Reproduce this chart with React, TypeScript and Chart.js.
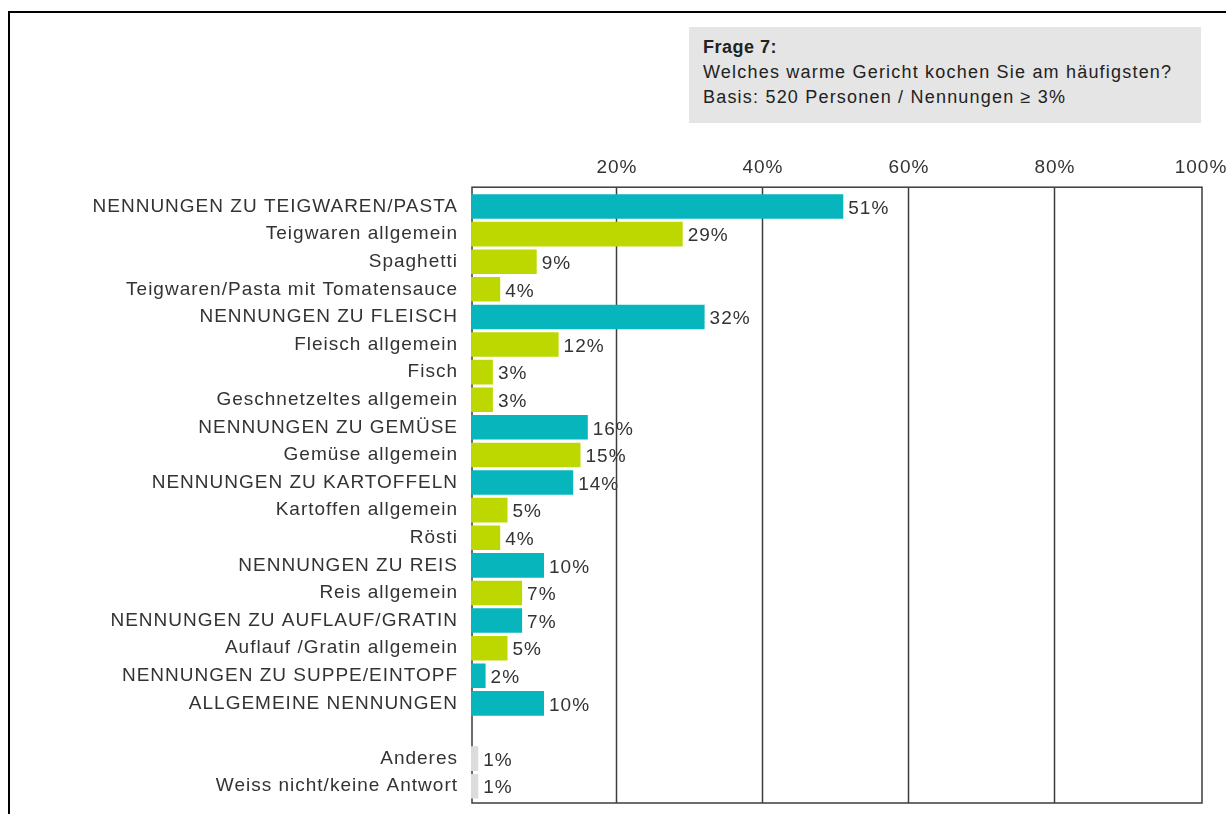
import React, { useEffect, useRef } from "react";
import { Chart, registerables } from "chart.js";

Chart.register(...registerables);

const categories = [
  "NENNUNGEN ZU TEIGWAREN/PASTA",
  "Teigwaren allgemein",
  "Spaghetti",
  "Teigwaren/Pasta mit Tomatensauce",
  "NENNUNGEN ZU FLEISCH",
  "Fleisch allgemein",
  "Fisch",
  "Geschnetzeltes allgemein",
  "NENNUNGEN ZU GEMÜSE",
  "Gemüse allgemein",
  "NENNUNGEN ZU KARTOFFELN",
  "Kartoffen allgemein",
  "Rösti",
  "NENNUNGEN ZU REIS",
  "Reis allgemein",
  "NENNUNGEN ZU AUFLAUF/GRATIN",
  "Auflauf /Gratin allgemein",
  "NENNUNGEN ZU SUPPE/EINTOPF",
  "ALLGEMEINE NENNUNGEN",
  "",
  "Anderes",
  "Weiss nicht/keine Antwort",
];

const values: (number | null)[] = [
  51, 29, 9, 4, 32, 12, 3, 3, 16, 15, 14, 5, 4, 10, 7, 7, 5, 2, 10, null, 1, 1,
];

// H = group heading, S = sub item, O = other
const kinds = [
  "H", "S", "S", "S", "H", "S", "S", "S", "H", "S", "H", "S", "S", "H", "S", "H", "S", "H", "H", "", "O", "O",
];

const xTicks = [20, 40, 60, 80, 100];

const COLORS: Record<string, string> = {
  H: "#06b6bc",
  S: "#bdd800",
  O: "#dcdcdc",
  "": "rgba(0,0,0,0)",
};

const FONT_FAMILY = '"Liberation Sans", Arial, sans-serif';
const TEXT_COLOR = "#333333";

const spacingPlugin = {
  id: "spacing",
  beforeDraw(chart: any) {
    chart.ctx.letterSpacing = "1px";
  },
};

const framePlugin = {
  id: "frameAndLabels",
  beforeDatasetsDraw(chart: any) {
    const { ctx, chartArea, scales } = chart;
    const { left, right, top, bottom } = chartArea;
    const x = scales.x;
    ctx.save();
    ctx.letterSpacing = "1px";
    // value labels
    ctx.font = `19px ${FONT_FAMILY}`;
    ctx.fillStyle = TEXT_COLOR;
    ctx.textAlign = "left";
    ctx.textBaseline = "middle";
    const meta = chart.getDatasetMeta(0);
    meta.data.forEach((bar: any, i: number) => {
      const v = values[i];
      if (v == null) return;
      ctx.fillText(`${v}%`, bar.x + 5, bar.y + 2);
    });
    // frame and grid lines
    ctx.strokeStyle = "#3c3c3c";
    ctx.lineWidth = 1.5;
    const ft = top - 5.5;
    const fb = bottom + 3;
    ctx.strokeRect(left + 1, ft, right - left, fb - ft);
    xTicks.slice(0, -1).forEach((v) => {
      const px = Math.round(x.getPixelForValue(v)) - 0.5;
      ctx.beginPath();
      ctx.moveTo(px, ft);
      ctx.lineTo(px, fb);
      ctx.stroke();
    });
    ctx.restore();
  },
};

const zeroPadding = (scale: any) => {
  scale.paddingTop = 0;
  scale.paddingBottom = 0;
  scale.paddingLeft = 0;
  scale.paddingRight = 0;
};

export default function App() {
  const canvasRef = useRef<HTMLCanvasElement | null>(null);

  useEffect(() => {
    if (!canvasRef.current) return;
    const chart = new Chart(canvasRef.current, {
      type: "bar",
      data: {
        labels: categories,
        datasets: [
          {
            data: values as any,
            backgroundColor: kinds.map((k) => COLORS[k]),
            borderWidth: 0,
            barPercentage: 0.89,
            categoryPercentage: 1,
          },
        ],
      },
      options: {
        indexAxis: "y",
        responsive: false,
        maintainAspectRatio: false,
        animation: false,
        layout: { padding: { left: 0, right: 25, top: 0, bottom: 14 } },
        scales: {
          x: {
            position: "top",
            min: 0,
            max: 100,
            afterBuildTicks: (scale: any) => {
              scale.ticks = xTicks.map((v) => ({ value: v }));
            },
            afterFit: (scale: any) => {
              scale.height = 192.7;
              zeroPadding(scale);
            },
            ticks: {
              callback: (v: any) => `${v}%`,
              font: { family: FONT_FAMILY, size: 19 },
              color: TEXT_COLOR,
              padding: 14,
              maxRotation: 0,
            },
            grid: { display: false, drawTicks: false },
            border: { display: false },
          },
          y: {
            afterFit: (scale: any) => {
              scale.width = 471;
              zeroPadding(scale);
            },
            ticks: {
              font: { family: FONT_FAMILY, size: 19 },
              color: TEXT_COLOR,
              padding: 13,
              autoSkip: false,
            },
            grid: { display: false, drawTicks: false },
            border: { display: false },
          },
        },
        plugins: {
          legend: { display: false },
          tooltip: { enabled: false },
        },
      },
      plugins: [spacingPlugin, framePlugin],
    });
    return () => chart.destroy();
  }, []);

  return (
    <div
      style={{
        position: "fixed",
        left: 0,
        top: 0,
        width: 1226,
        height: 814,
        background: "#ffffff",
        overflow: "hidden",
      }}
    >
      <div
        style={{
          position: "absolute",
          left: 8,
          top: 11,
          width: 1400,
          height: 1000,
          border: "2px solid #000",
        }}
      />
      <div
        style={{
          position: "absolute",
          left: 689,
          top: 27,
          width: 512,
          height: 96,
          background: "#e5e5e5",
          boxSizing: "border-box",
          paddingLeft: 14,
          paddingTop: 8,
          fontFamily: FONT_FAMILY,
          fontSize: 18,
          letterSpacing: "1.2px",
          lineHeight: "25px",
          color: "#222",
        }}
      >
        <div style={{ fontWeight: "bold", letterSpacing: "0.5px" }}>Frage 7:</div>
        <div>Welches warme Gericht kochen Sie am häufigsten?</div>
        <div>Basis: 520 Personen / Nennungen ≥ 3%</div>
      </div>
      <canvas
        ref={canvasRef}
        width={1226}
        height={814}
        style={{ position: "absolute", left: 0, top: 0, width: 1226, height: 814 }}
      />
    </div>
  );
}
